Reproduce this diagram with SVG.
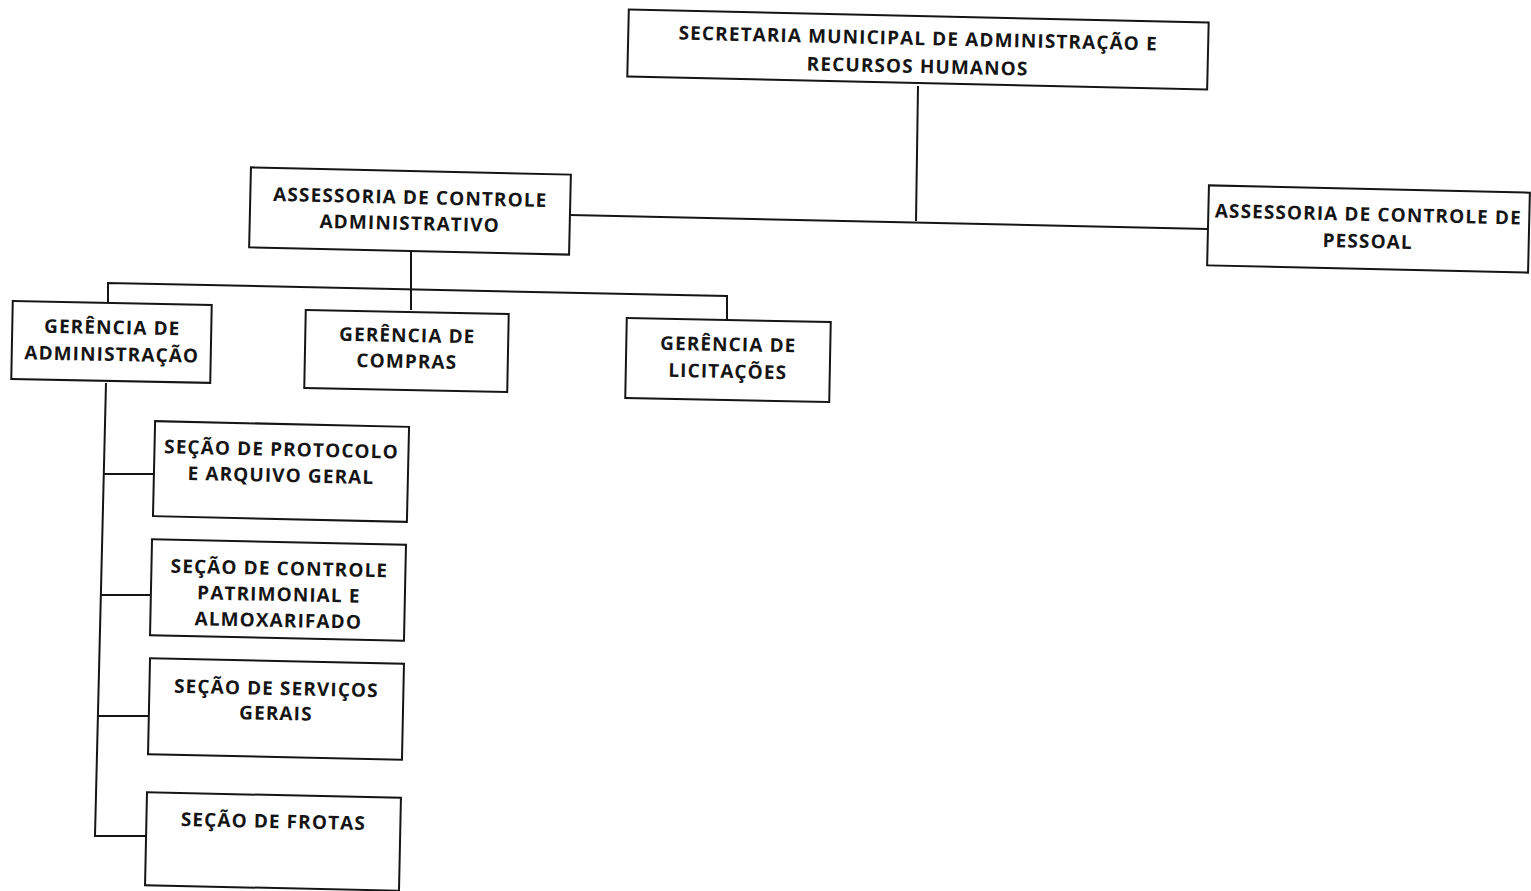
<svg xmlns="http://www.w3.org/2000/svg" width="1531" height="891" viewBox="0 0 1531 891">
<style>
.box{fill:#fff;stroke:#151515;stroke-width:2}
.t{font-family:"Open Sans","DejaVu Sans",sans-serif;font-weight:700;font-size:19px;letter-spacing:1.1px;fill:#151515;text-anchor:middle}
.c{fill:none;stroke:#151515;stroke-width:2}
</style>
<rect width="1531" height="891" fill="#fff"/>
<g id="connectors">
<polyline class="c" points="918,86 916,221"/>
<polyline class="c" points="570,215 1208,229"/>
<polyline class="c" points="411,252 411,310"/>
<polyline class="c" points="108,303 108,283 727,296 727,320"/>
<polyline class="c" points="106,383 95,836 146,836"/>
<polyline class="c" points="104,474 154,474"/>
<polyline class="c" points="101,595 151,595"/>
<polyline class="c" points="98,716 149,716"/>
</g>
<g id="secretaria" transform="rotate(1.3 918 49)">
<rect class="box" x="628" y="16" width="580" height="67"/>
<text class="t" x="918" y="45">SECRETARIA MUNICIPAL DE ADMINISTRAÇÃO E</text>
<text class="t" x="918" y="73">RECURSOS HUMANOS</text>
</g>
<g id="assessoria-admin" transform="rotate(1.3 410 211)">
<rect class="box" x="250" y="171" width="320" height="80"/>
<text class="t" x="410" y="204">ASSESSORIA DE CONTROLE</text>
<text class="t" x="410" y="230">ADMINISTRATIVO</text>
</g>
<g id="assessoria-pessoal" transform="rotate(1.3 1368 229)">
<rect class="box" x="1208" y="189" width="321" height="80"/>
<text class="t" x="1368" y="221">ASSESSORIA DE CONTROLE DE</text>
<text class="t" x="1368" y="248">PESSOAL</text>
</g>
<g id="gerencia-admin" transform="rotate(1.1 112 342)">
<rect class="box" x="12" y="303" width="199" height="78"/>
<text class="t" x="112" y="334">GERÊNCIA DE</text>
<text class="t" x="112" y="361">ADMINISTRAÇÃO</text>
</g>
<g id="gerencia-compras" transform="rotate(1.1 406 351)">
<rect class="box" x="305" y="312" width="203" height="78"/>
<text class="t" x="407" y="342">GERÊNCIA DE</text>
<text class="t" x="407" y="368">COMPRAS</text>
</g>
<g id="gerencia-licitacoes" transform="rotate(1.1 728 360)">
<rect class="box" x="626" y="320" width="204" height="80"/>
<text class="t" x="728" y="351">GERÊNCIA DE</text>
<text class="t" x="728" y="378">LICITAÇÕES</text>
</g>
<g id="secao-protocolo" transform="rotate(1.3 281 472)">
<rect class="box" x="154" y="424" width="254" height="95"/>
<text class="t" x="281" y="456">SEÇÃO DE PROTOCOLO</text>
<text class="t" x="281" y="482">E ARQUIVO GERAL</text>
</g>
<g id="secao-patrimonial" transform="rotate(1.2 278 590)">
<rect class="box" x="151" y="542" width="254" height="96"/>
<text class="t" x="279" y="575">SEÇÃO DE CONTROLE</text>
<text class="t" x="279" y="601">PATRIMONIAL E</text>
<text class="t" x="279" y="627">ALMOXARIFADO</text>
</g>
<g id="secao-servicos" transform="rotate(1.2 276 709)">
<rect class="box" x="149" y="661" width="254" height="96"/>
<text class="t" x="276" y="695">SEÇÃO DE SERVIÇOS</text>
<text class="t" x="276" y="720">GERAIS</text>
</g>
<g id="secao-frotas" transform="rotate(1.2 273 841)">
<rect class="box" x="146" y="795" width="254" height="93"/>
<text class="t" x="273" y="828">SEÇÃO DE FROTAS</text>
</g>
</svg>
